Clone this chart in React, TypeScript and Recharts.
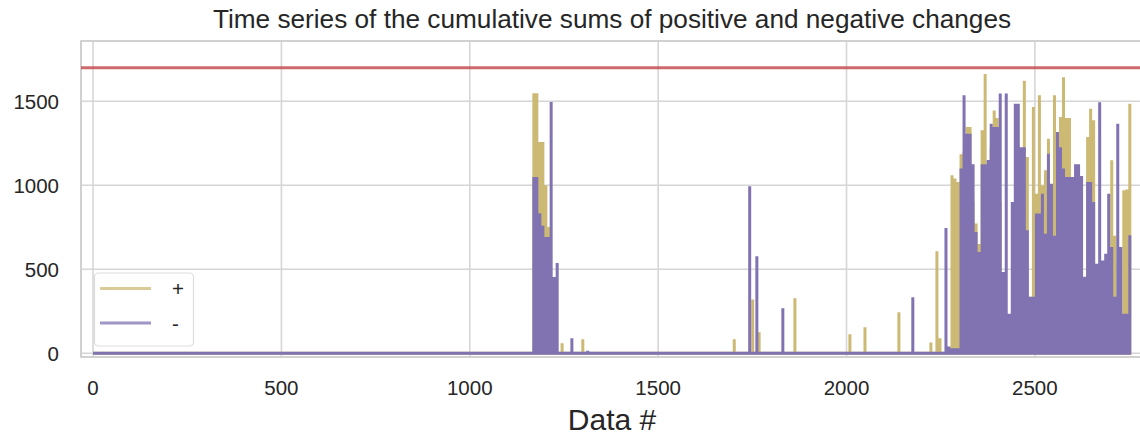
import {
  CartesianGrid,
  Line,
  LineChart,
  ReferenceArea,
  ReferenceLine,
  XAxis,
  YAxis,
} from "recharts";

const PLUS_COLOR = "#ccb974";
const MINUS_COLOR = "#8172b2";
const THRESHOLD_COLOR = "#c44e52";
const GRIDLINE = "#d6d6d6";
const FRAME = "#cccccc";
const TEXT = "#262626";
const FONT = '"Liberation Sans", Arial, sans-serif';

const X_TICKS = [0, 500, 1000, 1500, 2000, 2500];
const Y_TICKS = [0, 500, 1000, 1500];
const X_DOMAIN = [-32, 2787];
const Y_DOMAIN = [-22, 1859];
const THRESHOLD = 1700;
const LAST_INDEX = 2755;

// single resets: [data #, cumulative sum]
const plusSpikes: [number, number][] = [
  [1245, 60], [1300, 83], [1702, 83], [1751, 321], [1768, 125],
  [1863, 327], [2009, 113], [2049, 155], [2139, 244], [2224, 65],
  [2240, 607],
];
const minusSpikes: [number, number][] = [
  [1271, 90], [1313, 15], [1743, 994], [1762, 577], [1831, 268],
  [2176, 333],
];

// first burst of changes
const burstIndex = [1170, 1178, 1186, 1194, 1202, 1209, 1216, 1224, 1232];
const burstPlus = [1548, 1548, 1258, 1258, 1000, 752, 0, 0, 0];
const burstMinus = [1049, 1049, 833, 760, 692, 692, 1496, 454, 538];

// the busy end of the record
const tailIndex = [
  2248, 2256, 2264, 2272, 2280, 2288, 2296, 2304, 2312, 2320, 2328, 2336,
  2344, 2352, 2360, 2368, 2376, 2384, 2392, 2400, 2408, 2416, 2424, 2432,
  2440, 2448, 2456, 2464, 2472, 2480, 2488, 2496, 2504, 2512, 2520, 2528,
  2536, 2544, 2552, 2560, 2568, 2576, 2584, 2592, 2600, 2608, 2616, 2624,
  2632, 2640, 2648, 2656, 2664, 2672, 2680, 2688, 2696, 2704, 2712, 2720,
  2728, 2736, 2744, 2752,
];
const tailPlus = [
  90, 0, 0, 0, 1060, 1040, 1020, 1185, 1200, 1347, 1347, 900,
  772, 650, 1327, 1663, 1100, 1226, 1445, 1400, 900, 0, 0, 0,
  0, 0, 0, 0, 1623, 1168, 336, 1466, 950, 1536, 1000, 1089,
  1277, 1000, 1536, 1300, 1406, 1643, 1400, 1400, 700, 0, 0, 0,
  395, 1287, 1456, 1387, 0, 0, 0, 0, 0, 1149, 700, 0,
  0, 970, 975, 1485,
];
const tailMinus = [
  0, 0, 746, 40, 30, 30, 30, 1100, 1536, 1307, 1307, 1125,
  722, 603, 1125, 1125, 1150, 1367, 1347, 1347, 1546, 484, 1546, 236,
  900, 1485, 1485, 1226, 1226, 732, 336, 336, 832, 832, 950, 712,
  1188, 1010, 700, 1317, 1226, 1100, 1050, 1050, 1050, 1125, 1125, 1056,
  455, 1020, 1020, 900, 533, 1495, 553, 593, 950, 633, 336, 1367,
  633, 236, 236, 702,
];

type Point = { x: number; y: number };

// each reset is a jump up to the sum and straight back to zero
function buildSeries(
  spikes: [number, number][],
  burst: number[],
  tail: number[],
): Point[] {
  const peaks: [number, number][] = [
    ...spikes,
    ...burstIndex.map((x, i): [number, number] => [x, burst[i]]),
    ...tailIndex.map((x, i): [number, number] => [x, tail[i]]),
  ]
    .filter(([, h]) => h > 0)
    .sort((a, b) => a[0] - b[0]);

  const points: Point[] = [{ x: 0, y: 0 }];
  for (const [x, h] of peaks) {
    points.push({ x, y: 0 }, { x, y: h }, { x, y: 0 });
  }
  points.push({ x: LAST_INDEX, y: 0 });
  return points;
}

const plusSeries = buildSeries(plusSpikes, burstPlus, tailPlus);
const minusSeries = buildSeries(minusSpikes, burstMinus, tailMinus);

const tickStyle = { fontSize: 20.5, fill: TEXT, fontFamily: FONT };

export default function App() {
  return (
    <div
      style={{
        position: "absolute",
        left: 0,
        top: 0,
        width: 1140,
        height: 439,
        overflow: "hidden",
        background: "#ffffff",
        fontFamily: FONT,
      }}
    >
      <LineChart
        width={1144}
        height={439}
        margin={{ top: 41, right: 1, bottom: 52, left: 21 }}
      >
        <CartesianGrid stroke={GRIDLINE} strokeWidth={1.6} />
        <ReferenceArea
          x1={X_DOMAIN[0]}
          x2={X_DOMAIN[1]}
          y1={Y_DOMAIN[0]}
          y2={Y_DOMAIN[1]}
          fill="none"
          stroke={FRAME}
          strokeWidth={1.6}
        />
        <XAxis
          type="number"
          dataKey="x"
          domain={X_DOMAIN}
          ticks={X_TICKS}
          allowDataOverflow
          height={30}
          axisLine={false}
          tickLine={false}
          tickSize={0}
          tickMargin={23}
          tick={tickStyle}
          label={{
            value: "Data #",
            position: "bottom",
            offset: 22,
            fontSize: 30,
            fill: TEXT,
            fontFamily: FONT,
          }}
        />
        <YAxis
          type="number"
          domain={Y_DOMAIN}
          ticks={Y_TICKS}
          allowDataOverflow
          width={60}
          axisLine={false}
          tickLine={false}
          tickSize={0}
          tickMargin={22}
          tick={tickStyle}
        />
        <ReferenceLine
          y={THRESHOLD}
          stroke={THRESHOLD_COLOR}
          strokeWidth={3}
          strokeOpacity={0.85}
        />
        <Line
          data={plusSeries}
          dataKey="y"
          name="+"
          type="linear"
          stroke={PLUS_COLOR}
          strokeWidth={3}
          dot={false}
          activeDot={false}
          isAnimationActive={false}
        />
        <Line
          data={minusSeries}
          dataKey="y"
          name="-"
          type="linear"
          stroke={MINUS_COLOR}
          strokeWidth={3}
          dot={false}
          activeDot={false}
          isAnimationActive={false}
        />
      </LineChart>

      <svg
        width={1140}
        height={439}
        style={{ position: "absolute", left: 0, top: 0, pointerEvents: "none" }}
      >
        <text
          x={612}
          y={28}
          textAnchor="middle"
          fontSize={26.2}
          fill={TEXT}
          fontFamily={FONT}
        >
          Time series of the cumulative sums of positive and negative changes
        </text>

        <rect
          x={94.5}
          y={273}
          width={99}
          height={73}
          rx={4}
          fill="#ffffff"
          fillOpacity={0.85}
          stroke="#dddddd"
          strokeWidth={1.2}
        />
        <line x1={100} x2={151} y1={288.5} y2={288.5} stroke={PLUS_COLOR} strokeWidth={3} strokeOpacity={0.75} />
        <line x1={100} x2={151} y1={323} y2={323} stroke={MINUS_COLOR} strokeWidth={3} strokeOpacity={0.75} />
        <text x={172} y={296} fontSize={20.5} fill={TEXT} fontFamily={FONT}>
          +
        </text>
        <text x={172} y={331} fontSize={20.5} fill={TEXT} fontFamily={FONT}>
          -
        </text>
      </svg>
    </div>
  );
}
